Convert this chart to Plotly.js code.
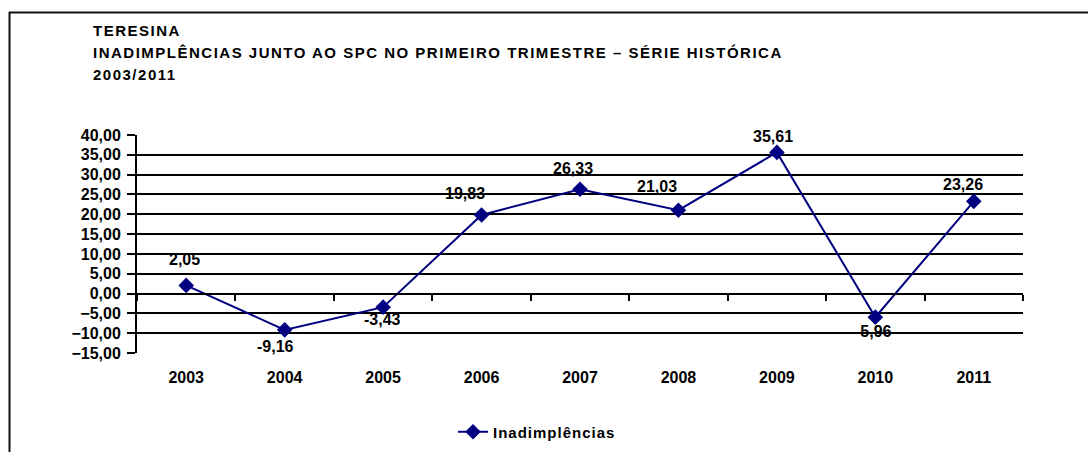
<!DOCTYPE html>
<html>
<head>
<meta charset="utf-8">
<script src="https://cdn.plot.ly/plotly-3.0.1.min.js"></script>
<style>
  html, body { margin: 0; padding: 0; background: #fff; }
  #chart { width: 1088px; height: 452px; }
  .gtitle { letter-spacing: 1.5px; }
  .legendtext { letter-spacing: 1px; }
</style>
</head>
<body>
<div id="chart"></div>
<script>
// ---- data ----
var years = ['2003', '2004', '2005', '2006', '2007', '2008', '2009', '2010', '2011'];
var inadimplencias = [2.05, -9.16, -3.43, 19.83, 26.33, 21.03, 35.61, -5.96, 23.26];
var seriesName = 'Inadimplências';
var titleLines = ['TERESINA', 'INADIMPLÊNCIAS JUNTO AO SPC NO PRIMEIRO TRIMESTRE – SÉRIE HISTÓRICA', '2003/2011'];

// label offsets (style only), in px
var labelShift = [[-2, 26], [-9, -17], [-1, -12], [-17, 21], [-7, 21], [-21, 24], [-4, 16], [-2, -14], [-11, 17]];

var W = 1088, H = 452;
var L = 137, R = 65, T = 135, B = 99;
var pw = W - L - R, ph = H - T - B;
function px2x(p) { return (p - L) / pw; }
function py2y(p) { return (H - B - p) / ph; }

var fam = '"Liberation Sans", Arial, sans-serif';
function bold(size) { return { family: fam, size: size, color: '#000', weight: 'bold' }; }
var navy = '#000080';

function fmt(v) { return v.toFixed(2).replace('.', ','); }

var trace = {
  type: 'scatter', mode: 'lines+markers', name: seriesName,
  x: years, y: inadimplencias,
  line: { color: navy, width: 2 },
  marker: { symbol: 'diamond', size: 12, color: navy },
  hoverinfo: 'x+y'
};
var helper = {
  type: 'scatter', mode: 'lines', x: years, y: inadimplencias,
  xaxis: 'x2', yaxis: 'y', opacity: 0, line: { width: 0 },
  showlegend: false, hoverinfo: 'skip'
};

var annotations = inadimplencias.map(function (v, i) {
  return {
    x: i, y: v, xref: 'x', yref: 'y',
    text: fmt(v), showarrow: false,
    xshift: labelShift[i][0], yshift: labelShift[i][1],
    font: bold(16)
  };
});

var titleText = titleLines.map(function (t) {
  return '<span style="font-size:15px">' + t + '</span>';
}).join('<br>');

var layout = {
  width: W, height: H,
  margin: { l: L, r: R, t: T, b: B, pad: 0, autoexpand: false },
  paper_bgcolor: '#fff', plot_bgcolor: '#fff',
  font: bold(16),
  title: {
    text: titleText,
    font: bold(17),
    xref: 'container', yref: 'container',
    x: 93 / W, xanchor: 'left',
    y: 1 - 36 / H, yanchor: 'top'
  },
  xaxis: {
    type: 'category', categoryorder: 'array', categoryarray: years,
    range: [-0.5, years.length - 0.5],
    showgrid: false, zeroline: false, showline: false,
    ticks: 'outside', ticklen: 10, tickcolor: 'rgba(0,0,0,0)',
    tickfont: bold(16), fixedrange: true
  },
  xaxis2: {
    type: 'category', categoryorder: 'array', categoryarray: years,
    range: [-0.5, years.length - 0.5],
    overlaying: 'x', anchor: 'free', position: 15 / 55,
    showgrid: false, zeroline: false,
    showline: true, linecolor: '#000', linewidth: 2,
    ticks: 'outside', tickson: 'boundaries', ticklen: 6, tickwidth: 2, tickcolor: '#000',
    showticklabels: false, fixedrange: true
  },
  yaxis: {
    range: [-15, 40], dtick: 5, tick0: 0,
    tickformat: '.2f',
    showgrid: true, gridcolor: '#000', gridwidth: 2,
    zeroline: false,
    showline: true, linecolor: '#000', linewidth: 2,
    ticks: 'outside', ticklen: 8, tickwidth: 2, tickcolor: '#000',
    ticklabelstandoff: 3,
    tickfont: bold(16), fixedrange: true
  },
  separators: ',.',
  showlegend: true,
  legend: {
    orientation: 'h', x: px2x(453), xanchor: 'left',
    y: py2y(432), yanchor: 'middle',
    font: bold(15),
    bgcolor: 'rgba(0,0,0,0)'
  },
  annotations: annotations,
  shapes: [
    { type: 'line', xref: 'paper', yref: 'paper', x0: px2x(9), x1: px2x(1090), y0: py2y(12.5), y1: py2y(12.5), line: { color: '#111', width: 2 } },
    { type: 'line', xref: 'paper', yref: 'paper', x0: px2x(9.5), x1: px2x(9.5), y0: py2y(12), y1: py2y(455), line: { color: '#111', width: 2 } }
  ]
};

Plotly.newPlot('chart', [trace, helper], layout, { displayModeBar: false, staticPlot: true });
</script>
</body>
</html>
